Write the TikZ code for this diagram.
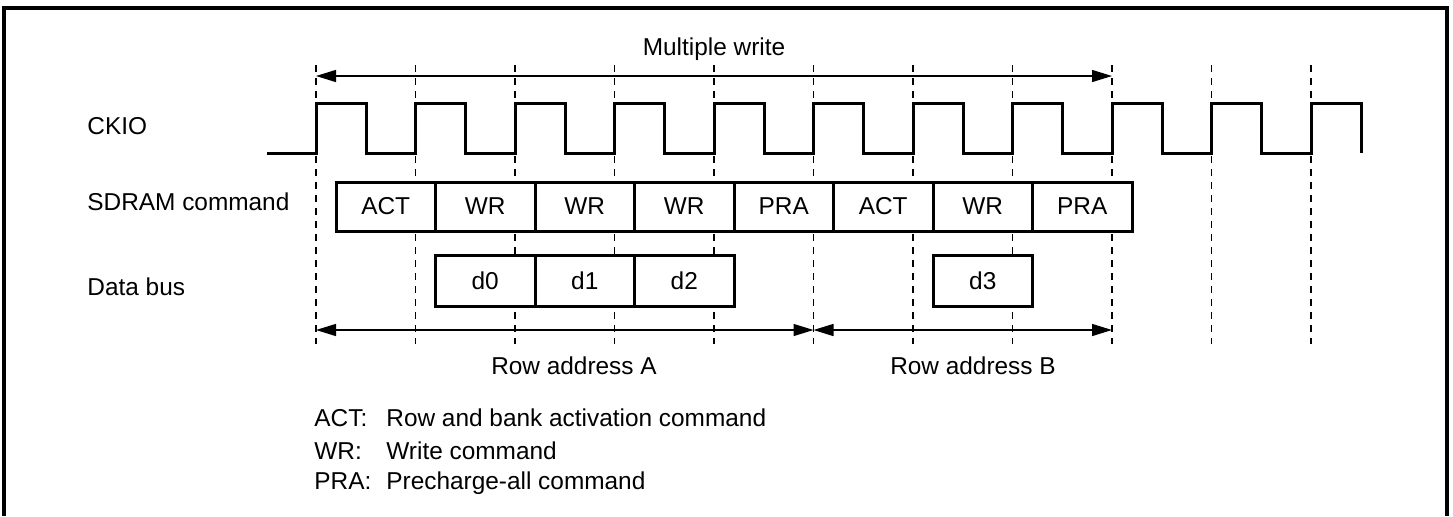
\documentclass[tikz,border=0pt]{standalone}
\usepackage{fontspec}
\setmainfont{Liberation Sans}
\usetikzlibrary{arrows.meta,positioning}
\tikzset{
  cmdbox/.style={rectangle, draw, fill=white, line width=1.5pt, minimum width=49.75pt,
                 minimum height=24.5pt, inner sep=0pt, outer sep=0pt},
  databox/.style={cmdbox, minimum height=25.5pt},
  clkline/.style={line width=1.5pt},
  edgeline/.style={line width=0.6pt, dash pattern=on 3.5pt off 3pt},
  dimarrow/.style={{Triangle[length=10pt,width=6pt]}-{Triangle[length=10pt,width=6pt]}, line width=0.7pt},
  siglabel/.style={anchor=base west, inner sep=0pt},
  keylabel/.style={anchor=base west, inner sep=0pt},
}

\begin{document}
\begin{tikzpicture}[x=0.5pt, y=-0.5pt, font=\fontsize{12.2}{14.6}\selectfont]
\useasboundingbox (0,0) rectangle (1453,516);
\draw[line width=1.8pt] (4,516) -- (4,8) -- (1447,8) -- (1447,516);

% clock edges
\foreach \i in {0,...,10} {
  \coordinate (t\i) at ({316+99.5*\i},65);
  \coordinate (b\i) at ({316+99.5*\i},344);
  \coordinate (m\i) at ({316+99.5*\i},76);
  \coordinate (r\i) at ({316+99.5*\i},330);
  \draw[edgeline] (t\i) -- (b\i);
}

\node[anchor=base, inner sep=0pt] (mw) at (714,55) {Multiple write};
\draw[dimarrow] (m0) -- (m8);

% signals
\node[siglabel] (ckio) at (87,134) {CKIO};
\node[siglabel] (sdram) at (87,210) {SDRAM command};
\node[siglabel] (dbus) at (87,295) {Data bus};

\draw[clkline] (267,153) foreach \i in {0,...,10} {
  -- ({316+99.5*\i},153) -- ++(0,-50) -- ++(50,0) -- ++(0,50) };

\foreach \c [count=\i from 0] in {ACT,WR,WR,WR,PRA,ACT,WR,PRA}
  \node[cmdbox] (cmd\i) at ({385.75+99.5*\i},206.5) {\c};

\foreach \lbl/\k in {d0/1,d1/2,d2/3,d3/6}
  \node[databox] (\lbl) at ({385.75+99.5*\k},280.5) {\lbl};

\draw[dimarrow] (r0) -- (r5);
\draw[dimarrow] (r5) -- (r8);
\node[anchor=base, inner sep=0pt] (rowa) at (574,374) {Row address A};
\node[anchor=base, inner sep=0pt] (rowb) at (973,374) {Row address B};

% key
\node[keylabel] (kact) at (314,426) {ACT:};
\node[keylabel] (kwr) at (314,459) {WR:};
\node[keylabel] (kpra) at (314,489) {PRA:};
\node[keylabel] (tact) at (386,426) {Row and bank activation command};
\node[keylabel] (twr) at (386,459) {Write command};
\node[keylabel] (tpra) at (386,489) {Precharge-all command};
\end{tikzpicture}
\end{document}
